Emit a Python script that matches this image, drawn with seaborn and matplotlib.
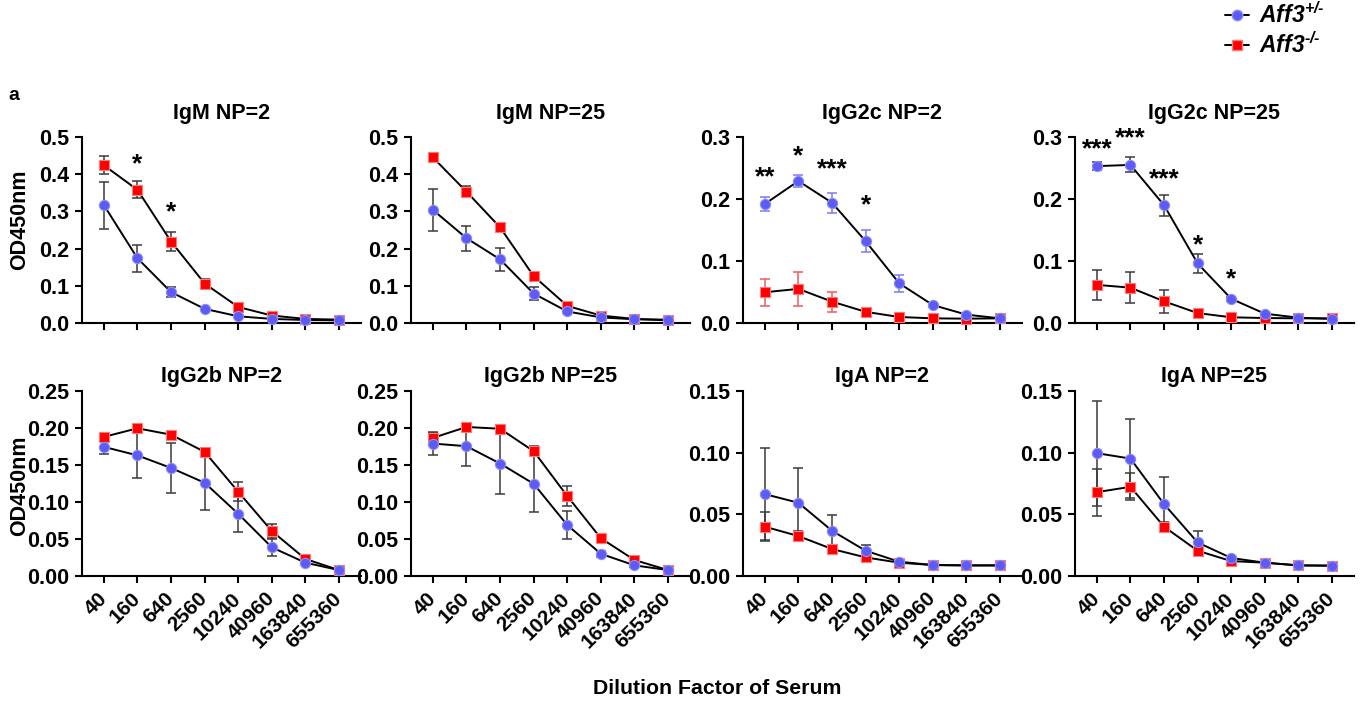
import numpy as np
import pandas as pd
import seaborn as sns
import matplotlib.pyplot as plt
from matplotlib.lines import Line2D
from matplotlib.ticker import FormatStrFormatter
from matplotlib.transforms import ScaledTranslation

dilutions = ["40", "160", "640", "2560", "10240", "40960", "163840", "655360"]

# het = Aff3+/-, ko = Aff3-/- ; mean and SEM of OD450
igm2_het = [0.317, 0.174, 0.083, 0.038, 0.018, 0.011, 0.008, 0.007]
igm2_het_sem = [0.063, 0.036, 0.014, 0.003, 0.002, 0.001, 0.001, 0.001]
igm2_ko = [0.424, 0.358, 0.219, 0.106, 0.043, 0.020, 0.011, 0.009]
igm2_ko_sem = [0.024, 0.023, 0.025, 0.012, 0.004, 0.002, 0.001, 0.001]
igm2_stars = [("160", 0.443, "*"), ("640", 0.313, "*")]

igm25_het = [0.304, 0.228, 0.171, 0.079, 0.031, 0.015, 0.010, 0.009]
igm25_het_sem = [0.056, 0.034, 0.031, 0.018, 0.003, 0.002, 0.001, 0.001]
igm25_ko = [0.445, 0.353, 0.257, 0.126, 0.046, 0.020, 0.011, 0.007]
igm25_ko_sem = [0.011, 0.015, 0.005, 0.005, 0.003, 0.002, 0.001, 0.001]
igm25_stars = []

igg2c2_het = [0.192, 0.229, 0.194, 0.132, 0.064, 0.029, 0.0135, 0.0075]
igg2c2_het_sem = [0.011, 0.009, 0.016, 0.018, 0.014, 0.004, 0.002, 0.001]
igg2c2_ko = [0.0496, 0.055, 0.0345, 0.018, 0.0097, 0.0075, 0.007, 0.0075]
igg2c2_ko_sem = [0.022, 0.027, 0.016, 0.003, 0.002, 0.001, 0.001, 0.001]
igg2c2_stars = [("40", 0.244, "**"), ("160", 0.279, "*"),
                ("640", 0.258, "***"), ("2560", 0.199, "*")]

igg2c25_het = [0.253, 0.255, 0.190, 0.096, 0.039, 0.015, 0.0086, 0.0065]
igg2c25_het_sem = [0.007, 0.012, 0.017, 0.015, 0.003, 0.002, 0.001, 0.001]
igg2c25_ko = [0.0615, 0.057, 0.035, 0.016, 0.0092, 0.008, 0.0075, 0.0075]
igg2c25_ko_sem = [0.024, 0.025, 0.019, 0.003, 0.001, 0.001, 0.001, 0.001]
igg2c25_stars = [("40", 0.290, "***"), ("160", 0.3076, "***"),
                 ("640", 0.2417, "***"), ("2560", 0.135, "*"), ("10240", 0.080, "*")]

igg2b2_het = [0.1745, 0.163, 0.146, 0.126, 0.084, 0.0387, 0.018, 0.008]
igg2b2_het_sem = [0.009, 0.031, 0.034, 0.037, 0.025, 0.011, 0.002, 0.001]
igg2b2_ko = [0.188, 0.1996, 0.191, 0.1677, 0.1138, 0.0607, 0.023, 0.008]
igg2b2_ko_sem = [0.004, 0.003, 0.004, 0.005, 0.013, 0.009, 0.002, 0.001]

igg2b25_het = [0.179, 0.1754, 0.152, 0.1246, 0.0688, 0.030, 0.0144, 0.008]
igg2b25_het_sem = [0.015, 0.027, 0.041, 0.038, 0.019, 0.004, 0.002, 0.001]
igg2b25_ko = [0.1866, 0.2014, 0.199, 0.1686, 0.108, 0.051, 0.0216, 0.008]
igg2b25_ko_sem = [0.007, 0.003, 0.003, 0.007, 0.013, 0.004, 0.002, 0.001]

iga2_het = [0.0664, 0.0594, 0.0367, 0.0205, 0.0116, 0.0089, 0.0086, 0.0086]
iga2_het_sem = [0.037, 0.028, 0.0127, 0.005, 0.001, 0.0005, 0.0005, 0.0005]
iga2_ko = [0.040, 0.0324, 0.0219, 0.0151, 0.0108, 0.0089, 0.0086, 0.0086]
iga2_ko_sem = [0.012, 0.004, 0.002, 0.002, 0.001, 0.0005, 0.0005, 0.0005]

iga25_het = [0.0996, 0.0952, 0.0583, 0.0272, 0.0146, 0.0108, 0.0086, 0.0084]
iga25_het_sem = [0.0426, 0.032, 0.022, 0.009, 0.001, 0.001, 0.0005, 0.0005]
iga25_ko = [0.068, 0.0723, 0.040, 0.0205, 0.0121, 0.0108, 0.0086, 0.0084]
iga25_ko_sem = [0.019, 0.011, 0.004, 0.003, 0.001, 0.001, 0.0005, 0.0005]

BLUE = "#5c5cf5"
BLUE_EDGE = "#8c8cff"
RED = "#ff0000"
RED_EDGE = "#ff7a7a"
ERR = "#3a3a3a"

sns.set_theme(style="ticks")
plt.rcParams.update({
    "font.family": ["Liberation Sans", "DejaVu Sans"],
    "font.weight": "bold",
    "text.color": "black",
    "axes.labelcolor": "black",
    "axes.linewidth": 1.5,
    "xtick.major.width": 1.5,
    "ytick.major.width": 1.5,
    "xtick.major.size": 5,
    "ytick.major.size": 5,
    "xtick.labelsize": 15,
    "ytick.labelsize": 15.5,
    "axes.edgecolor": "black",
    "xtick.color": "black",
    "ytick.color": "black",
    "mathtext.fontset": "custom",
    "mathtext.it": "Liberation Sans:italic:bold",
    "mathtext.rm": "Liberation Sans:italic:bold",
    "mathtext.bf": "Liberation Sans:italic:bold",
})

fig = plt.figure(figsize=(13.67, 7.04), dpi=100)

lefts = [0.060, 0.3007, 0.5435, 0.7864]
width = 0.204
rows = [(0.5412, 0.2642), (0.1818, 0.2628)]


def draw(ax, title, het, het_sem, ko, ko_sem, ymax, ystep, fmt, stars,
         colored_err=False, show_x=False, title_pad=13):
    pos = list(range(len(dilutions)))
    df = pd.DataFrame({
        "pos": pos * 2,
        "od": ko + het,
        "geno": ["ko"] * len(pos) + ["het"] * len(pos),
    })
    sns.lineplot(data=df, x="pos", y="od", units="geno", estimator=None,
                 color="black", lw=1.4, ax=ax, zorder=2)
    ax.errorbar(pos, ko, yerr=ko_sem, fmt="none",
                ecolor="#f25a5a" if colored_err else ERR,
                elinewidth=1.1, capsize=3.5, capthick=1.1, zorder=3, clip_on=False)
    ax.errorbar(pos, het, yerr=het_sem, fmt="none",
                ecolor="#7c7cf2" if colored_err else ERR,
                elinewidth=1.1, capsize=3.5, capthick=1.1, zorder=3, clip_on=False)
    sns.scatterplot(data=df[df.geno == "ko"], x="pos", y="od", marker="s",
                    color=RED, edgecolor=RED_EDGE, linewidth=0.8, s=46,
                    ax=ax, zorder=4, clip_on=False, legend=False)
    sns.scatterplot(data=df[df.geno == "het"], x="pos", y="od", marker="o",
                    color=BLUE, edgecolor=BLUE_EDGE, linewidth=0.8, s=54,
                    ax=ax, zorder=5, clip_on=False, legend=False)

    # significance stars, y given at the star's centre
    shift = ax.transData + ScaledTranslation(0, -0.13, fig.dpi_scale_trans)
    for lab, y, txt in stars:
        ax.text(dilutions.index(lab), y, txt, transform=shift, ha="center",
                va="baseline", fontsize=19, fontweight="bold", clip_on=False)

    ax.set_xlim(-0.65, 7.65)
    ax.set_ylim(0, ymax)
    ax.set_yticks(np.arange(0, ymax + 1e-9, ystep))
    ax.yaxis.set_major_formatter(FormatStrFormatter(fmt))
    ax.set_xticks(pos)
    if show_x:
        ax.set_xticklabels(dilutions, rotation=45, ha="right", va="center",
                           rotation_mode="anchor", fontweight="bold")
        ax.tick_params(axis="x", pad=9)
    else:
        ax.set_xticklabels([])
    ax.tick_params(axis="y", pad=4)
    for t in ax.get_yticklabels():
        t.set_fontweight("bold")
    ax.set_xlabel("")
    ax.set_ylabel("")
    ax.set_title(title, fontsize=15.5, fontweight="bold", pad=title_pad)
    sns.despine(ax=ax)


top = [
    ("IgM NP=2", igm2_het, igm2_het_sem, igm2_ko, igm2_ko_sem, 0.5, 0.1, "%.1f", igm2_stars, False),
    ("IgM NP=25", igm25_het, igm25_het_sem, igm25_ko, igm25_ko_sem, 0.5, 0.1, "%.1f", igm25_stars, False),
    ("IgG2c NP=2", igg2c2_het, igg2c2_het_sem, igg2c2_ko, igg2c2_ko_sem, 0.3, 0.1, "%.1f", igg2c2_stars, True),
    ("IgG2c NP=25", igg2c25_het, igg2c25_het_sem, igg2c25_ko, igg2c25_ko_sem, 0.3, 0.1, "%.1f", igg2c25_stars, False),
]
bottom = [
    ("IgG2b NP=2", igg2b2_het, igg2b2_het_sem, igg2b2_ko, igg2b2_ko_sem, 0.25, 0.05, "%.2f", [], False),
    ("IgG2b NP=25", igg2b25_het, igg2b25_het_sem, igg2b25_ko, igg2b25_ko_sem, 0.25, 0.05, "%.2f", [], False),
    ("IgA NP=2", iga2_het, iga2_het_sem, iga2_ko, iga2_ko_sem, 0.15, 0.05, "%.2f", [], False),
    ("IgA NP=25", iga25_het, iga25_het_sem, iga25_ko, iga25_ko_sem, 0.15, 0.05, "%.2f", [], False),
]

for r, panels in enumerate([top, bottom]):
    y0, h = rows[r]
    for i, p in enumerate(panels):
        ax = fig.add_axes([lefts[i], y0, width, h])
        title, het, het_sem, ko, ko_sem, ymax, ystep, fmt, stars, colored = p
        draw(ax, title, het, het_sem, ko, ko_sem, ymax, ystep, fmt, stars,
             colored_err=colored, show_x=(r == 1), title_pad=13 if r == 0 else 6.5)

fig.text(0.0146, 0.6875, "OD450nm", rotation=90, ha="center", va="center",
         fontsize=15.5, fontweight="bold")
fig.text(0.0146, 0.31, "OD450nm", rotation=90, ha="center", va="center",
         fontsize=15.5, fontweight="bold")
fig.text(0.525, 0.0227, "Dilution Factor of Serum", ha="center", va="center",
         fontsize=15.3, fontweight="bold")
fig.text(0.006, 1 - 95 / 704, "a", ha="left", va="center", fontsize=14, fontweight="bold")

handles = [
    Line2D([], [], color="black", lw=1.4, marker="o", markersize=7.5,
           markerfacecolor=BLUE, markeredgecolor=BLUE_EDGE),
    Line2D([], [], color="black", lw=1.4, marker="s", markersize=7,
           markerfacecolor=RED, markeredgecolor=RED_EDGE),
]
labels = ["$\\mathit{Aff3}^{+/\u2010}$", "$\\mathit{Aff3}^{\u2010/\u2010}$"]
fig.legend(handles, labels, loc="upper left", bbox_to_anchor=(1225 / 1367, 1 - 2 / 704),
           frameon=False, fontsize=16.5, handlelength=1.05, handletextpad=0.45,
           labelspacing=0.2, borderpad=0, borderaxespad=0)

fig.savefig("out.png", dpi=100)
